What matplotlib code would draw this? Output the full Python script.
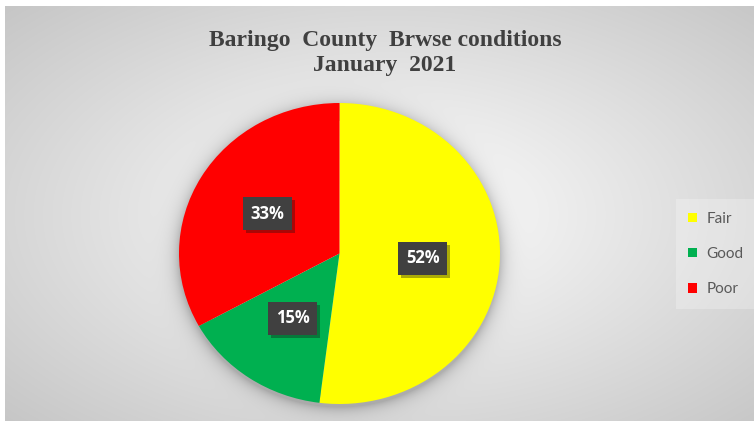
import numpy as np
import matplotlib.pyplot as plt
import matplotlib.patheffects as pe
from matplotlib.patches import Patch

labels = ["Fair", "Good", "Poor"]
shares = [52, 15, 33]
colors = ["#FFFF00", "#00B050", "#FF0000"]
title = "Baringo  County  Brwse conditions\nJanuary  2021"

W, H = 754, 421
fig = plt.figure(figsize=(W / 100, H / 100), dpi=100)
fig.patch.set_facecolor("white")

# chart area background: soft radial gray gradient plus pie shadow
bg = fig.add_axes([0, 0, 1, 1])
bg.set_xlim(0, W)
bg.set_ylim(H, 0)
bg.axis("off")
x0, y0, x1, y1 = 5, 6, W, H
yy, xx = np.mgrid[y0:y1, x0:x1] + 0.5
r = np.sqrt(((xx - 390) / 375) ** 2 + ((yy - 215) / 210) ** 2)
val = 255 - 40 * r
# shadow around the pie, a little below it
cx, cy, a, b = 339.5, 253.5, 160.5, 150.5
rho = np.sqrt(((xx - cx) / a) ** 2 + ((yy - cy - 3) / b) ** 2)
d = np.clip((rho - 1) * 155, 0, None)
val = val * (1 - 0.22 * np.exp(-d / 7) * (rho > 0.9))
img = np.clip(val, 0, 255) / 255
bg.imshow(np.dstack([img, img, img]), extent=(x0, x1, y1, y0), interpolation="bilinear", aspect="auto")

ax = fig.add_axes([179 / W, 17 / H, 321 / W, 301 / H])
wedges, _, pcts = ax.pie(shares, colors=colors, startangle=90, counterclock=False,
                         autopct="%1.0f%%", pctdistance=0.52,
                         wedgeprops=dict(linewidth=0))
ax.set_aspect("auto")
ax.set_xlim(-1, 1)
ax.set_ylim(-1, 1)
ax.axis("off")

for t in pcts:
    t.set_color("white")
    t.set_fontfamily("Open Sans")
    t.set_fontweight("bold")
    t.set_fontsize(12)
    t.set_bbox(dict(boxstyle="square,pad=0.45", facecolor="#404040", edgecolor="none"))
    t.get_bbox_patch().set_path_effects([pe.SimplePatchShadow(offset=(2, -2), alpha=0.35), pe.Normal()])

fig.text(385 / W, 1 - 30 / H, title, ha="center", va="top", fontsize=17,
         fontfamily="Liberation Serif", fontweight="bold", color="#404040", linespacing=1.25)

handles = [Patch(facecolor=c, edgecolor="none") for c in colors]
leg = fig.legend(handles, labels, loc="center left", bbox_to_anchor=(673 / W, 1 - 254 / H),
                 frameon=True, handlelength=0.55, handleheight=0.55,
                 handletextpad=0.65, labelspacing=1.4, borderpad=0.5,
                 prop=dict(family="Lato", size=11))
leg.get_frame().set_facecolor("white")
leg.get_frame().set_alpha(0.25)
leg.get_frame().set_edgecolor("none")
leg.get_frame().set_boxstyle("square")
for t in leg.get_texts():
    t.set_color("#595959")

fig.savefig("out.png", dpi=100)
